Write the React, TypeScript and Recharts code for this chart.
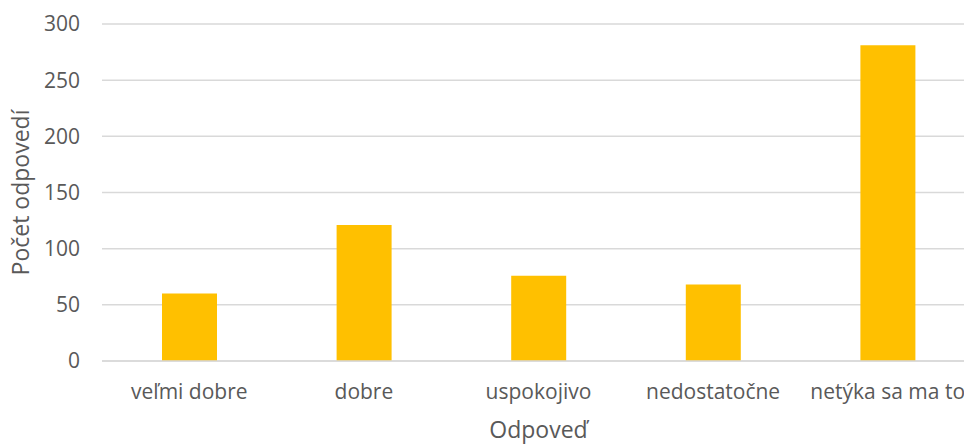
import { BarChart, Bar, XAxis, YAxis, CartesianGrid, Label } from "recharts";

const categories = ["veľmi dobre", "dobre", "uspokojivo", "nedostatočne", "netýka sa ma to"];
const counts = [60, 121, 76, 68, 281];
const yTicks = [0, 50, 100, 150, 200, 250, 300];

const data = categories.map((name, i) => ({ name, value: counts[i] }));

const textColor = "#595959";
const gridColor = "#d9d9d9";

const App = () => {
  return (
    <div
      style={{
        position: "absolute",
        left: 0,
        top: 0,
        width: 964,
        height: 445,
        overflow: "hidden",
        background: "#fff",
        fontFamily: "'Open Sans', sans-serif",
      }}
    >
      <BarChart
        width={975}
        height={445}
        data={data}
        margin={{ top: 24, right: 0, bottom: 0, left: 0 }}
        barSize={55}
      >
        <CartesianGrid vertical={false} stroke={gridColor} strokeWidth={1.5} />
        <XAxis
          dataKey="name"
          height={84}
          interval={0}
          tickLine={false}
          tickSize={0}
          tickMargin={23}
          axisLine={{ stroke: gridColor, strokeWidth: 1.5 }}
          tick={{ fill: textColor, fontSize: 21 }}
        >
          <Label
            content={({ viewBox }: any) => (
              <text
                x={viewBox.x + viewBox.width / 2}
                y={438}
                textAnchor="middle"
                fill={textColor}
                fontSize={23}
              >
                Odpoveď
              </text>
            )}
          />
        </XAxis>
        <YAxis
          width={102}
          domain={[0, 300]}
          ticks={yTicks}
          axisLine={false}
          tickLine={false}
          tickSize={0}
          tickMargin={22}
          tick={{ fill: textColor, fontSize: 21 }}
        >
          <Label
            content={({ viewBox }: any) => {
              const cy = viewBox.y + viewBox.height / 2;
              return (
                <text
                  x={20}
                  y={cy}
                  transform={`rotate(-90 20 ${cy})`}
                  textAnchor="middle"
                  dominantBaseline="central"
                  fill={textColor}
                  fontSize={23}
                >
                  Počet odpovedí
                </text>
              );
            }}
          />
        </YAxis>
        <Bar dataKey="value" fill="#FFC000" isAnimationActive={false} />
      </BarChart>
    </div>
  );
};

export default App;
